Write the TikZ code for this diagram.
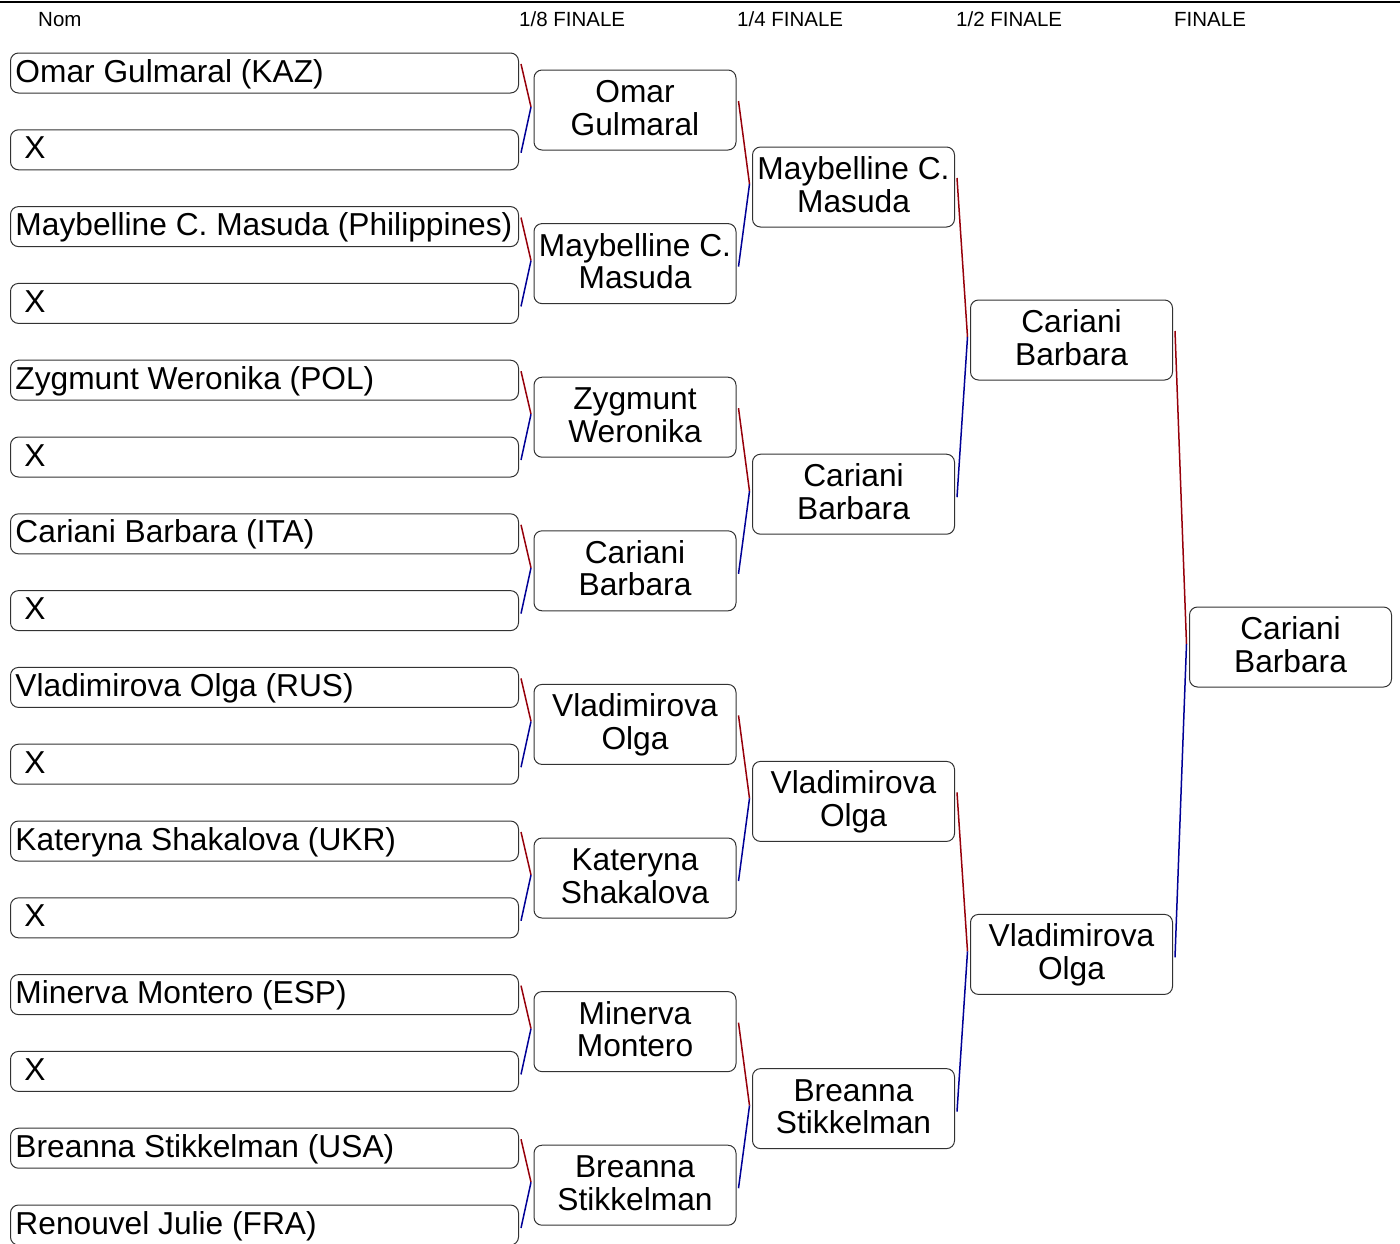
\documentclass[tikz,border=0pt]{standalone}
\usepackage{fontspec}
\setmainfont{Liberation Sans}
\usepackage{tikz}
\usetikzlibrary{positioning}

\definecolor{upred}{RGB}{150,0,10}
\definecolor{downblue}{RGB}{0,0,150}
\definecolor{boxgray}{RGB}{50,50,50}

\tikzset{
  entrant/.style={draw=boxgray, line width=1pt, rounded corners=8pt, anchor=west,
    text width=498pt, align=flush left, inner xsep=5pt, inner ysep=6pt,
    text height=23pt, text depth=5pt, font=\fontsize{31.7}{32.5}\selectfont},
  winner/.style={draw=boxgray, line width=1pt, rounded corners=8pt,
    text width=200pt, align=flush center, inner xsep=1pt, inner ysep=9.5pt,
    text height=23pt, text depth=38pt, font=\fontsize{31.7}{32.5}\selectfont},
  roundlabel/.style={anchor=base west, inner sep=0pt, font=\fontsize{20.5}{24}\selectfont},
  upline/.style={upred, line width=1.5pt},
  downline/.style={downblue, line width=1.5pt}
}

% upper box, lower box, box of the next round
\newcommand{\duel}[3]{%
  \draw[upline] ([xshift=2pt,yshift=9pt]#1.east) -- ([xshift=-2.5pt,yshift=3pt]#3.west);
  \draw[downline] ([xshift=-2.5pt,yshift=3pt]#3.west) -- ([xshift=2pt,yshift=-3pt]#2.east);
}

\begin{document}
\begin{tikzpicture}[x=1pt,y=1pt]

    \useasboundingbox (0,0) rectangle (1400,-1243);

    % Top rule and round titles
    \draw[line width=2.5pt] (0,-2) -- (1400,-2);
    \node[roundlabel] (tnom) at (38,-26) {Nom};
    \node[roundlabel] (t8) at (519,-26) {1/8 FINALE};
    \node[roundlabel] (t4) at (737,-26) {1/4 FINALE};
    \node[roundlabel] (t2) at (956,-26) {1/2 FINALE};
    \node[roundlabel] (t1) at (1174,-26) {FINALE};

    % Players
    \node[entrant] (e1) at (10,-73) {Omar Gulmaral (KAZ)};
    \node[entrant] (e2) at (10,-149.8) {\ X};
    \node[entrant] (e3) at (10,-226.6) {Maybelline C. Masuda (Philippines)};
    \node[entrant] (e4) at (10,-303.4) {\ X};
    \node[entrant] (e5) at (10,-380.2) {Zygmunt Weronika (POL)};
    \node[entrant] (e6) at (10,-457) {\ X};
    \node[entrant] (e7) at (10,-533.8) {Cariani Barbara (ITA)};
    \node[entrant] (e8) at (10,-610.6) {\ X};
    \node[entrant] (e9) at (10,-687.4) {Vladimirova Olga (RUS)};
    \node[entrant] (e10) at (10,-764.2) {\ X};
    \node[entrant] (e11) at (10,-841) {Kateryna Shakalova (UKR)};
    \node[entrant] (e12) at (10,-917.8) {\ X};
    \node[entrant] (e13) at (10,-994.6) {Minerva Montero (ESP)};
    \node[entrant] (e14) at (10,-1071.4) {\ X};
    \node[entrant] (e15) at (10,-1148.2) {Breanna Stikkelman (USA)};
    \node[entrant] (e16) at (10,-1225) {Renouvel Julie (FRA)};

    % 1/8 finale
    \node[winner] (h1) at (635,-110) {Omar\\Gulmaral};
    \node[winner] (h2) at (635,-263.6) {Maybelline C.\\Masuda};
    \node[winner] (h3) at (635,-417.2) {Zygmunt\\Weronika};
    \node[winner] (h4) at (635,-570.8) {Cariani\\Barbara};
    \node[winner] (h5) at (635,-724.4) {Vladimirova\\Olga};
    \node[winner] (h6) at (635,-878) {Kateryna\\Shakalova};
    \node[winner] (h7) at (635,-1031.6) {Minerva\\Montero};
    \node[winner] (h8) at (635,-1185.2) {Breanna\\Stikkelman};

    % 1/4 finale
    \node[winner] (q1) at (853.5,-187) {Maybelline C.\\Masuda};
    \node[winner] (q2) at (853.5,-494.2) {Cariani\\Barbara};
    \node[winner] (q3) at (853.5,-801.4) {Vladimirova\\Olga};
    \node[winner] (q4) at (853.5,-1108.6) {Breanna\\Stikkelman};

    % 1/2 finale
    \node[winner] (s1) at (1071.5,-340) {Cariani\\Barbara};
    \node[winner] (s2) at (1071.5,-954.4) {Vladimirova\\Olga};

    % Finale
    \node[winner] (fin) at (1290.5,-647) {Cariani\\Barbara};

    % Connectors
    \duel{e1}{e2}{h1}
    \duel{e3}{e4}{h2}
    \duel{e5}{e6}{h3}
    \duel{e7}{e8}{h4}
    \duel{e9}{e10}{h5}
    \duel{e11}{e12}{h6}
    \duel{e13}{e14}{h7}
    \duel{e15}{e16}{h8}
    \duel{h1}{h2}{q1}
    \duel{h3}{h4}{q2}
    \duel{h5}{h6}{q3}
    \duel{h7}{h8}{q4}
    \duel{q1}{q2}{s1}
    \duel{q3}{q4}{s2}
    \duel{s1}{s2}{fin}

\end{tikzpicture}
\end{document}
